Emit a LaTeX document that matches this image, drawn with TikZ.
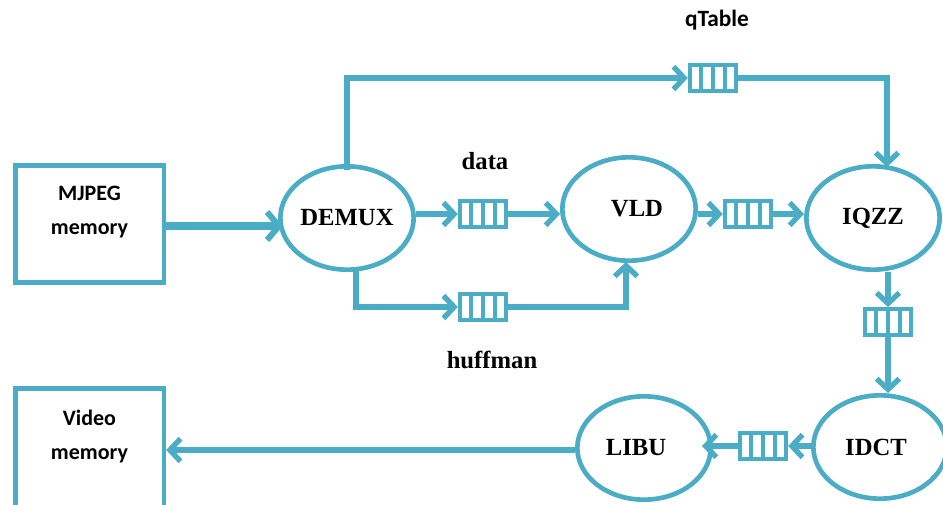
\documentclass[tikz,border=0pt]{standalone}
\usepackage{fontspec}
\setmainfont{Liberation Serif}
\newfontfamily\calfont{Carlito}
\usetikzlibrary{arrows.meta,shapes.geometric,calc}
\definecolor{linkblue}{RGB}{75,172,198}
\begin{document}
\begin{tikzpicture}[x=0.75pt,y=-0.75pt,
  proc/.style={ellipse, draw=linkblue, line width=3.5pt, minimum width=100pt, minimum height=77.5pt, inner sep=0pt, font=\bfseries\fontsize{18.5}{20}\selectfont},
  membox/.style={rectangle, draw=linkblue, line width=3.5pt, minimum width=111.5pt, inner sep=0pt},
  memtext/.style={align=center, font=\calfont\bfseries\fontsize{16.5}{25.5}\selectfont},
  fifo/.style={rectangle, draw=linkblue, line width=2.8pt, minimum width=35pt, minimum height=19.5pt, inner sep=0pt, fill=white,
    path picture={\foreach \f in {0.25,0.5,0.75}
      \draw[linkblue, line width=2.8pt] ($(path picture bounding box.north west)!\f!(path picture bounding box.north east)$) -- ($(path picture bounding box.south west)!\f!(path picture bounding box.south east)$);}},
  conn/.style={draw=linkblue, line width=4.2pt},
  arr/.style={-{Straight Barb[length=8pt,width=17pt,line width=4pt]}},
  lbl/.style={font=\bfseries\fontsize{18.5}{20}\selectfont},
  clbl/.style={font=\calfont\bfseries\fontsize{17.5}{20}\selectfont}
]
\useasboundingbox (0,0) rectangle (943,504);
% memory boxes
\node[membox, minimum height=88pt] (mjbox) at (89.5,224) {};
\node[memtext] (mjtext) at (89.5,212) {MJPEG\\memory};
\node[membox, minimum height=100pt] (vmbox) at (89.5,455) {};
\node[memtext] (vmtext) at (89.5,437) {Video\\memory};
% processes
\node[proc] (demux) at (347,218) {DEMUX};
\node[proc] (vld) at (629,209) {\hspace*{12pt}VLD};
\node[proc] (iqzz) at (873,218) {IQZZ};
\node[proc] (idct) at (880,447) {\hspace*{-6pt}IDCT};
\node[proc] (libu) at (644,448) {\hspace*{-12pt}LIBU};
% fifos
\node[fifo] (qfifo) at (713,78) {};
\node[fifo] (dfifo) at (483,214) {};
\node[fifo] (hfifo) at (483,307) {};
\node[fifo] (vfifo) at (748,214) {};
\node[fifo] (ififo) at (888,322) {};
\node[fifo] (lfifo) at (763,446) {};
% labels
\node[clbl] (qlbl) at (717,20) {qTable};
\node[lbl] (dlbl) at (485,161) {data};
\node[lbl] (hlbl) at (492,360) {huffman};
% coordinates
\coordinate (dtop) at (347,170);
\coordinate (qcorner1) at (347,78);
\coordinate (qcorner2) at (887,78);
\coordinate (qend) at (887,167);
\coordinate (dbot) at (356,268);
\coordinate (hcorner1) at (356,307);
\coordinate (hcorner2) at (626,307);
\coordinate (hend) at (626,262);
% connectors
\draw[conn, line width=6.5pt, -{Straight Barb[length=9pt,width=21pt,line width=4.5pt]}] (mjbox.east |- 0,226) -- (283,226);
\draw[conn, arr] (dtop) -- (qcorner1) -- (qfifo.west);
\draw[conn, arr] (qfifo.east) -- (qcorner2) -- (qend);
\draw[conn, arr] (demux.east |- dfifo) -- (dfifo.west);
\draw[conn, arr] (dfifo.east) -- (dfifo.east -| vld.west);
\draw[conn, arr] (dbot) -- (hcorner1) -- (hfifo.west);
\draw[conn, arr] (hfifo.east) -- (hcorner2) -- (hend);
\draw[conn, arr] (vld.east |- vfifo) -- (vfifo.west);
\draw[conn, arr] (vfifo.east) -- (vfifo.east -| iqzz.west);
\draw[conn, arr] (ififo |- iqzz.south) -- (ififo.north);
\draw[conn, arr] (ififo.south) -- (ififo.south |- idct.north);
\draw[conn, arr] (idct.west |- lfifo) -- (lfifo.east);
\draw[conn, arr] (lfifo.west) -- (702,446);
\draw[conn, arr] (libu.west |- 0,450) -- (vmbox.east |- 0,450);
\end{tikzpicture}
\end{document}
